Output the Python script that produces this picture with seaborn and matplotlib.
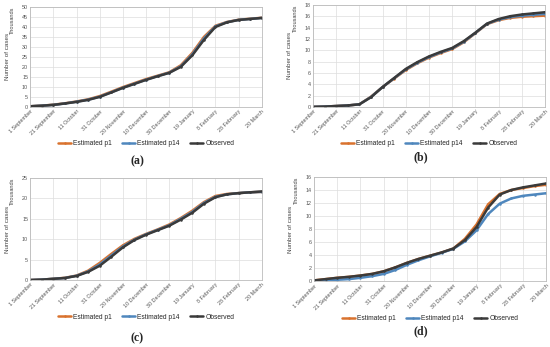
import matplotlib
matplotlib.use("Agg")
import matplotlib.pyplot as plt
import seaborn as sns
import pandas as pd

# 10-day samples from 1 September to 20 March (thousands of cases)
dates = pd.date_range("2020-09-01", "2021-03-20", freq="10D")
tick_dates = pd.date_range("2020-09-01", "2021-03-20", freq="20D")

a_obs = [0.3, 0.6, 1.0, 1.7, 2.5, 3.5, 5.0, 7.2, 9.5, 11.5, 13.5, 15.3, 17.0, 20.0, 25.8, 33.5, 40.0, 42.3, 43.5, 44.0, 44.5]
a_p1 = [0.3, 0.6, 1.1, 1.8, 2.7, 3.8, 5.4, 7.6, 9.9, 11.9, 13.9, 15.6, 17.3, 20.8, 27.0, 35.0, 40.6, 42.5, 43.6, 44.1, 44.6]
a_p14 = [0.3, 0.6, 1.0, 1.7, 2.6, 3.6, 5.1, 7.3, 9.6, 11.6, 13.6, 15.4, 17.1, 20.3, 26.3, 34.2, 40.3, 42.4, 43.5, 44.0, 44.5]

b_obs = [0.0, 0.05, 0.15, 0.25, 0.45, 1.7, 3.5, 5.1, 6.7, 7.9, 8.9, 9.7, 10.4, 11.6, 13.1, 14.7, 15.5, 16.0, 16.3, 16.5, 16.7]
b_p1 = [0.0, 0.05, 0.15, 0.25, 0.45, 1.8, 3.5, 5.0, 6.5, 7.7, 8.7, 9.5, 10.2, 11.4, 13.0, 14.6, 15.3, 15.7, 15.9, 16.0, 16.1]
b_p14 = [0.0, 0.05, 0.15, 0.25, 0.45, 1.75, 3.5, 5.05, 6.6, 7.8, 8.8, 9.6, 10.3, 11.5, 13.05, 14.65, 15.4, 15.85, 16.1, 16.25, 16.4]

c_obs = [0.0, 0.1, 0.3, 0.5, 1.0, 2.0, 3.5, 5.7, 8.0, 9.8, 11.1, 12.2, 13.3, 14.8, 16.5, 18.7, 20.3, 21.0, 21.3, 21.5, 21.7]
c_p1 = [0.0, 0.1, 0.3, 0.55, 1.1, 2.3, 4.2, 6.4, 8.5, 10.1, 11.3, 12.4, 13.6, 15.2, 17.0, 19.1, 20.6, 21.1, 21.3, 21.5, 21.6]
c_p14 = [0.0, 0.1, 0.3, 0.5, 1.05, 2.1, 3.8, 6.0, 8.2, 9.9, 11.2, 12.3, 13.4, 15.0, 16.7, 18.9, 20.4, 21.0, 21.3, 21.5, 21.6]

d_obs = [0.1, 0.3, 0.5, 0.65, 0.85, 1.1, 1.5, 2.1, 2.8, 3.4, 3.9, 4.4, 5.0, 6.3, 8.3, 11.3, 13.3, 14.0, 14.4, 14.7, 15.0]
d_p1 = [0.1, 0.3, 0.5, 0.65, 0.85, 1.1, 1.5, 2.1, 2.8, 3.4, 3.9, 4.4, 5.0, 6.5, 8.7, 11.8, 13.4, 14.0, 14.3, 14.6, 14.8]
d_p14 = [0.05, 0.1, 0.2, 0.3, 0.5, 0.75, 1.1, 1.7, 2.5, 3.2, 3.8, 4.35, 4.95, 6.1, 7.8, 10.3, 11.9, 12.7, 13.1, 13.3, 13.5]

panels = [
    ("(a)", a_p1, a_p14, a_obs, 50, 5),
    ("(b)", b_p1, b_p14, b_obs, 18, 2),
    ("(c)", c_p1, c_p14, c_obs, 25, 5),
    ("(d)", d_p1, d_p14, d_obs, 16, 2),
]

# axes rectangles [left, bottom, width, height] in figure fractions
rects = [
    [0.055, 0.692, 0.421, 0.288],
    [0.569, 0.692, 0.422, 0.294],
    [0.055, 0.193, 0.421, 0.294],
    [0.571, 0.190, 0.422, 0.300],
]
captions = [(0.25, 0.535), (0.765, 0.548), (0.25, 0.025), (0.765, 0.045)]

sns.set_theme(style="white")
plt.rcParams["font.family"] = ["Liberation Sans", "DejaVu Sans"]

colors = {"Estimated p1": "#D9722E", "Estimated p14": "#4F87BD", "Observed": "#3A3A3A"}

fig = plt.figure(figsize=(5.5, 3.47), dpi=100)

for (cap, p1, p14, obs, ymax, step), rect, cpos in zip(panels, rects, captions):
    ax = fig.add_axes(rect)
    for name, vals in [("Estimated p1", p1), ("Estimated p14", p14), ("Observed", obs)]:
        sns.lineplot(x=dates, y=vals, ax=ax, color=colors[name], linewidth=1.8,
                     marker="o", markersize=1.8, markeredgewidth=0, label=name)
    ax.set_xlim(dates[0], dates[-1])
    ax.set_ylim(0, ymax)
    ax.set_yticks(range(0, ymax + 1, step))
    ax.set_xticks(tick_dates)
    ax.set_xticklabels([f"{d.day} {d.strftime('%B')}" for d in tick_dates],
                       rotation=45, ha="right", rotation_mode="anchor")
    ax.tick_params(axis="both", labelsize=3.9, colors="#555555", length=0, pad=1.5)
    ax.grid(True, color="#DDDDDD", linewidth=0.5)
    for sp in ax.spines.values():
        sp.set_color("#BBBBBB")
        sp.set_linewidth(0.6)
    ax.set_xlabel("")
    ax.set_ylabel("Number of cases", fontsize=4.5, color="#444444", labelpad=9)
    ax.text(-0.075, 1.0, "Thousands", transform=ax.transAxes, rotation=90,
            ha="center", va="top", fontsize=4, color="#444444")
    ax.legend(loc="upper center", bbox_to_anchor=(0.5, -0.27), ncol=3, frameon=False,
              fontsize=4.8, handlelength=2.0, columnspacing=1.5, handletextpad=0.3)
    fig.text(cpos[0], cpos[1], cap, ha="center", va="center", fontsize=8.5,
             fontweight="bold", family=["Liberation Serif", "DejaVu Serif"])

fig.savefig("out.png", dpi=100)
